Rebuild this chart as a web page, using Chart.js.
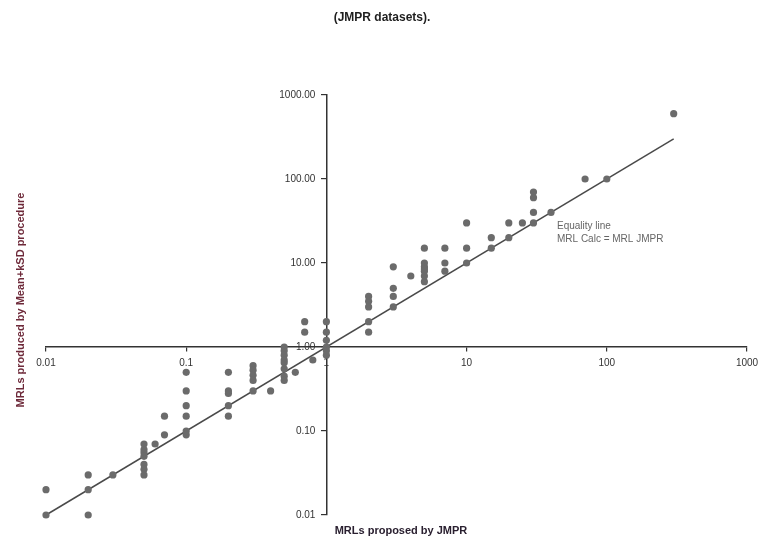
<!DOCTYPE html>
<html lang="en">

<head>
    <meta charset="UTF-8" />
    <title>JMPR datasets</title>
    <script src="https://cdn.jsdelivr.net/npm/chart.js"></script>
    <style>
        body { margin: 0; background: #fff; }
        .box { width: 765px; height: 542px; }
    </style>
</head>

<body>

    <div class="box">
        <canvas id="myChart"></canvas>
    </div>

</body>

<script>
    // MRL proposed by JMPR (x) vs MRL from Mean+kSD (y)
    const mrlJmpr = [
        0.01, 0.01,
        0.02, 0.02, 0.02,
        0.03,
        0.05, 0.05, 0.05, 0.05, 0.05, 0.05, 0.05,
        0.06,
        0.07, 0.07,
        0.1, 0.1, 0.1, 0.1, 0.1, 0.1,
        0.2, 0.2, 0.2, 0.2, 0.2,
        0.3, 0.3, 0.3, 0.3, 0.3,
        0.4,
        0.5, 0.5, 0.5, 0.5, 0.5, 0.5, 0.5, 0.5,
        0.6,
        0.7, 0.7,
        0.8,
        1, 1, 1, 1, 1, 1,
        2, 2, 2, 2, 2,
        3, 3, 3, 3,
        4,
        5, 5, 5, 5, 5, 5, 5,
        7, 7, 7,
        10, 10, 10,
        15, 15,
        20, 20,
        25,
        30, 30, 30, 30,
        40,
        70,
        100,
        300
    ];
    const mrlCalc = [
        0.02, 0.01,
        0.03, 0.02, 0.01,
        0.03,
        0.07, 0.06, 0.055, 0.05, 0.04, 0.035, 0.03,
        0.07,
        0.15, 0.09,
        0.5, 0.3, 0.2, 0.15, 0.1, 0.09,
        0.5, 0.3, 0.28, 0.2, 0.15,
        0.6, 0.53, 0.46, 0.4, 0.3,
        0.3,
        1.0, 0.9, 0.8, 0.7, 0.65, 0.55, 0.45, 0.4,
        0.5,
        2, 1.5,
        0.7,
        2, 1.5, 1.2, 1, 0.9, 0.8,
        4, 3.5, 3, 2, 1.5,
        9, 5, 4, 3,
        7,
        15, 10, 9, 8.5, 8, 7, 6,
        15, 10, 8,
        30, 15, 10,
        20, 15,
        30, 20,
        30,
        70, 60, 40, 30,
        40,
        100,
        100,
        600
    ];

    // equality line end points
    const equalityX = [0.01, 300];

    const tickValues = [0.01, 0.1, 1, 10, 100, 1000];
    const xTickLabels = ['0.01', '0.1', '1', '10', '100', '1000'];
    const yTickLabels = ['0.01', '0.10', '1.00', '10.00', '100.00', '1000.00'];

    const points = mrlJmpr.map(function (x, i) {
        return { x: x, y: mrlCalc[i] };
    });
    const equality = equalityX.map(function (v) {
        return { x: v, y: v };
    });

    function decadeTicks(scale) {
        scale.ticks = tickValues.map(function (v) { return { value: v }; });
    }

    const fontFam = '"Liberation Sans", Arial, sans-serif';

    // y tick labels sit left of the crossing axis, chart.js puts them on it, so draw them here
    const yLabelPlugin = {
        id: 'yLabels',
        afterDraw: function (chart) {
            const ctx = chart.ctx;
            const xs = chart.scales.x;
            const ys = chart.scales.y;
            const axisX = xs.getPixelForValue(1);
            ctx.save();
            ctx.font = '10px ' + fontFam;
            ctx.fillStyle = '#333';
            ctx.textAlign = 'right';
            ctx.textBaseline = 'middle';
            tickValues.forEach(function (v, i) {
                ctx.fillText(yTickLabels[i], axisX - 11, ys.getPixelForValue(v));
            });
            ctx.restore();
        }
    };

    // titles and the line note, drawn where the original puts them
    const textPlugin = {
        id: 'texts',
        afterDraw: function (chart) {
            const ctx = chart.ctx;
            ctx.save();
            ctx.textAlign = 'center';
            ctx.textBaseline = 'middle';

            ctx.fillStyle = '#1e1e1e';
            ctx.font = 'bold 12px ' + fontFam;
            ctx.fillText('(JMPR datasets).', 382, 18);

            ctx.font = 'bold 11px ' + fontFam;
            ctx.fillStyle = '#2a2030';
            ctx.fillText('MRLs proposed by JMPR', 401, 531);

            ctx.save();
            ctx.translate(21, 300);
            ctx.rotate(-Math.PI / 2);
            ctx.fillStyle = '#6e2a3a';
            ctx.fillText('MRLs produced by Mean+kSD procedure', 0, 0);
            ctx.restore();

            ctx.textAlign = 'left';
            ctx.fillStyle = '#666';
            ctx.font = '10px ' + fontFam;
            ctx.fillText('Equality line', 557, 226);
            ctx.fillText('MRL Calc = MRL JMPR', 557, 239);
            ctx.restore();
        }
    };

    const data = {
        datasets: [{
            type: 'scatter',
            label: 'MRLs',
            data: points,
            backgroundColor: '#6b6b6b',
            borderColor: '#6b6b6b',
            pointRadius: 3.6,
            pointBorderWidth: 0,
            clip: false
        }, {
            type: 'line',
            label: 'Equality line',
            data: equality,
            borderColor: '#4a4a4a',
            borderWidth: 1.5,
            pointRadius: 0,
            fill: false,
            clip: false
        }]
    };

    const config = {
        type: 'scatter',
        data: data,
        plugins: [yLabelPlugin, textPlugin],
        options: {
            responsive: true,
            maintainAspectRatio: false,
            animation: false,
            layout: {
                padding: { left: 46, right: 18, top: 95, bottom: 27 }
            },
            scales: {
                x: {
                    type: 'logarithmic',
                    min: 0.01,
                    max: 1000,
                    position: { y: 1 },
                    afterBuildTicks: decadeTicks,
                    border: { color: '#333', width: 1.5 },
                    grid: { drawOnChartArea: false, tickLength: 4, color: '#333', lineWidth: 1.2 },
                    ticks: {
                        color: '#333',
                        padding: 6,
                        maxRotation: 0,
                        autoSkip: false,
                        font: { size: 10, family: fontFam },
                        callback: function (value, index) {
                            return xTickLabels[index];
                        }
                    }
                },
                y: {
                    type: 'logarithmic',
                    min: 0.01,
                    max: 1000,
                    position: { x: 1 },
                    afterBuildTicks: decadeTicks,
                    border: { color: '#333', width: 1.5 },
                    grid: { drawOnChartArea: false, tickLength: 5, color: '#333', lineWidth: 1.2 },
                    ticks: {
                        display: false
                    }
                }
            },
            plugins: {
                legend: { display: false },
                tooltip: { enabled: false }
            }
        }
    };

    const myChart = new Chart(
        document.getElementById('myChart'),
        config
    );
</script>

</html>
